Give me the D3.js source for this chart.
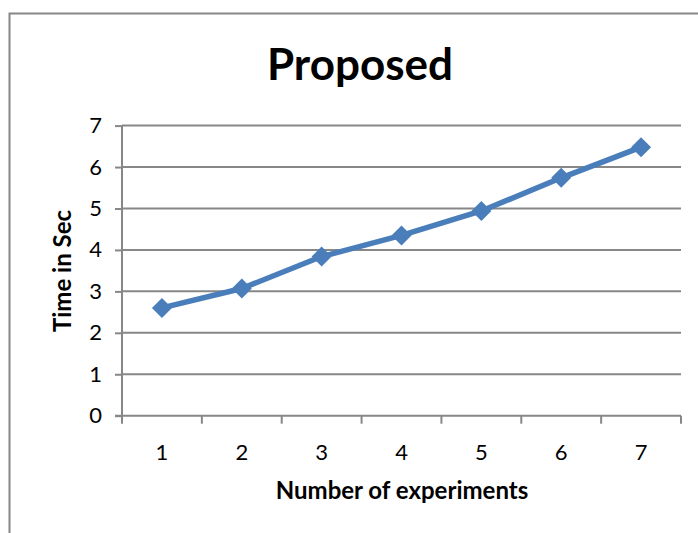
<!DOCTYPE html>
<html><head><meta charset="utf-8">
<script src="https://cdn.jsdelivr.net/npm/d3@7"></script>
<style>html,body{margin:0;padding:0;background:#fff;}svg{display:block;}</style>
</head><body>
<svg id="chart" width="698" height="533"></svg>
<script>
const categories = ["1","2","3","4","5","6","7"];
const values = [2.60, 3.07, 3.84, 4.35, 4.94, 5.74, 6.48];
const yTicks = [0,1,2,3,4,5,6,7];
const title = "Proposed";
const xTitle = "Number of experiments";
const yTitle = "Time in Sec";

const svg = d3.select("#chart");
const font = "Lato, 'Open Sans', sans-serif";
const m = {left:122, right:681, top:125.6, bottom:415.7};

// outer frame
svg.append("path").attr("d","M9.5,540 V13.5 H720").attr("fill","none").attr("stroke","#878787").attr("stroke-width",2);

const x = d3.scaleBand().domain(categories).range([m.left, m.right]);
const y = d3.scaleLinear().domain([0,7]).range([m.bottom, m.top]);

// gridlines
svg.append("g").selectAll("line").data(yTicks.filter(d=>d>0)).join("line")
  .attr("x1",m.left).attr("x2",m.right).attr("y1",d=>y(d)).attr("y2",d=>y(d))
  .attr("stroke","#878787").attr("stroke-width",2);

// y axis
const ya = svg.append("g").attr("transform",`translate(${m.left},0)`)
  .call(d3.axisLeft(y).tickValues(yTicks).tickSize(7).tickPadding(13).tickFormat(d3.format("d")));
ya.select(".domain").attr("stroke","#878787").attr("stroke-width",2).attr("d",`M0,${m.top}V${m.bottom}`);
ya.selectAll(".tick line").attr("stroke","#878787").attr("stroke-width",2);
ya.selectAll("text").attr("font-family",font).attr("font-size",22).attr("fill","#000");

// x axis
const xa = svg.append("g").attr("transform",`translate(0,${m.bottom})`)
  .call(d3.axisBottom(x).tickSize(0).tickPadding(29));
xa.select(".domain").attr("stroke","#878787").attr("stroke-width",2).attr("d",`M${m.left-7},0H${m.right}`);
xa.selectAll("text").attr("font-family",font).attr("font-size",22).attr("fill","#000");
const bounds = categories.map(c=>x(c)).concat([m.right]);
svg.append("g").selectAll("line").data(bounds).join("line")
  .attr("x1",d=>d).attr("x2",d=>d).attr("y1",m.bottom).attr("y2",m.bottom+8)
  .attr("stroke","#878787").attr("stroke-width",2);

// line
const cx = d => x(d) + x.bandwidth()/2;
svg.append("path").datum(values.map((v,i)=>[categories[i],v]))
  .attr("fill","none").attr("stroke","#4A7EBB").attr("stroke-width",5.5).attr("stroke-linejoin","round")
  .attr("d", d3.line().x(d=>cx(d[0])).y(d=>y(d[1])));
svg.append("g").selectAll("path").data(values).join("path")
  .attr("transform",(d,i)=>`translate(${cx(categories[i])},${y(d)})`)
  .attr("d","M0,-10L10,0L0,10L-10,0Z").attr("fill","#4A7EBB");

// titles
svg.append("text").attr("x",360).attr("y",80).attr("text-anchor","middle")
  .attr("font-family",font).attr("font-weight","bold").attr("font-size",44).text(title);
svg.append("text").attr("x",402).attr("y",499).attr("text-anchor","middle")
  .attr("font-family",font).attr("font-weight","bold").attr("font-size",24).text(xTitle);
svg.append("text").attr("transform","translate(71,271) rotate(-90)").attr("text-anchor","middle")
  .attr("font-family",font).attr("font-weight","bold").attr("font-size",24).text(yTitle);
</script>
</body></html>
